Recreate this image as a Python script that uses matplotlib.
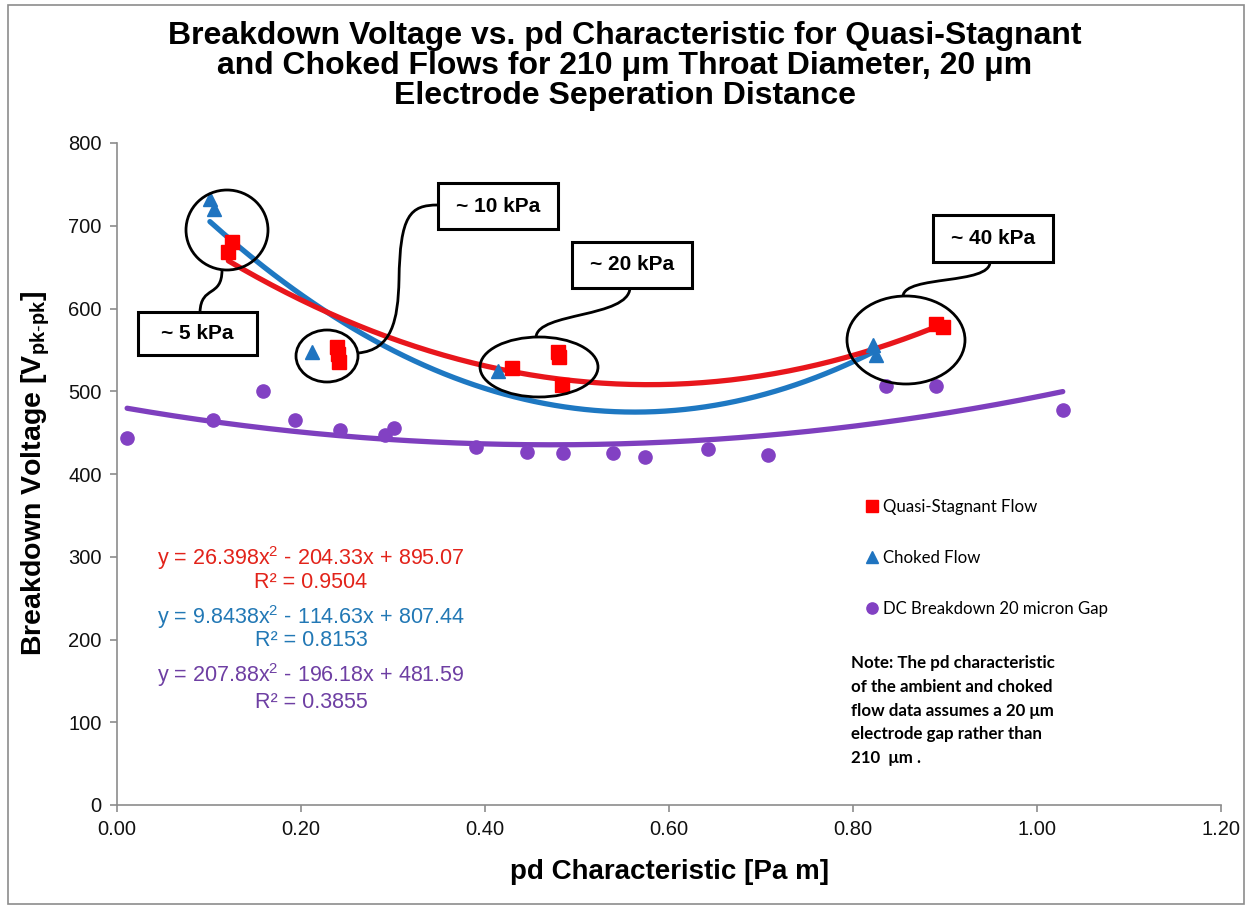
import numpy as np
import matplotlib
matplotlib.use("Agg")
import matplotlib.pyplot as plt
from matplotlib.patches import Ellipse, Rectangle, PathPatch
from matplotlib.path import Path

plt.rcParams['font.family'] = ['Liberation Sans', 'DejaVu Sans']
plt.rcParams['mathtext.fontset'] = 'custom'
plt.rcParams['mathtext.rm'] = 'Liberation Sans'
plt.rcParams['mathtext.bf'] = 'Liberation Sans:bold'
plt.rcParams['mathtext.it'] = 'Liberation Sans:italic'

# ---------------- data ----------------
quasi_x = [0.125, 0.121, 0.239, 0.240, 0.241, 0.429, 0.479, 0.480, 0.484, 0.890, 0.898]
quasi_y = [680, 668, 553, 545, 535, 528, 548, 541, 507, 581, 578]

choked_x = [0.101, 0.105, 0.212, 0.414, 0.822, 0.825]
choked_y = [732, 720, 548, 524, 556, 544]

dc_x = [0.011, 0.104, 0.159, 0.193, 0.242, 0.291, 0.301, 0.390, 0.446, 0.485,
        0.539, 0.574, 0.642, 0.708, 0.836, 0.890, 1.028]
dc_y = [443, 465, 500, 465, 453, 447, 455, 433, 427, 425,
        425, 421, 430, 423, 506, 506, 477]

# trendline coefficients (a, b, c) of a*x^2 + b*x + c in plotted units
quasi_fit = [716.7, -828.5, 747.4]
choked_fit = [1079.7, -1215.1, 816.7]
dc_fit = [207.88, -196.18, 481.59]

eq_labels = ["y = 26.398x$^2$ - 204.33x + 895.07", "R² = 0.9504",
             "y = 9.8438x$^2$ - 114.63x + 807.44", "R² = 0.8153",
             "y = 207.88x$^2$ - 196.18x + 481.59", "R² = 0.3855"]

series_labels = ["Quasi-Stagnant Flow", "Choked Flow", "DC Breakdown 20 micron Gap"]
callouts = ["~ 5 kPa", "~ 10 kPa", "~ 20 kPa", "~ 40 kPa"]

x_ticks = [0.00, 0.20, 0.40, 0.60, 0.80, 1.00, 1.20]
y_ticks = [0, 100, 200, 300, 400, 500, 600, 700, 800]

# ---------------- style ----------------
RED_M = '#FF0000'
RED_L = '#E8161C'
BLUE_M = '#1F74C0'
BLUE_L = '#1E78C2'
PURP_M = '#8241C3'
PURP_L = '#7E3FBE'

W, H = 1250, 909
fig = plt.figure(figsize=(W / 100, H / 100), dpi=100)
ax = fig.add_axes([117 / W, 1 - 805 / H, (1221 - 117) / W, (805 - 143) / H])


def P(x, y):
    return (x / W, 1 - y / H)


def trend(ax, xs, coef, color, z):
    xx = np.linspace(min(xs), max(xs), 200)
    yy = np.polyval(coef, xx)
    ax.plot(xx, yy, color=color, lw=3.8, solid_capstyle='round', zorder=z)


trend(ax, dc_x, dc_fit, PURP_L, 2)
trend(ax, choked_x, choked_fit, BLUE_L, 3)
trend(ax, quasi_x, quasi_fit, RED_L, 4)

h1, = ax.plot(quasi_x, quasi_y, 's', color=RED_M, ms=9.5, mec=RED_M, ls='none', zorder=6,
              label=series_labels[0])
h2, = ax.plot(choked_x, choked_y, '^', color=BLUE_M, ms=9.5, mec=BLUE_M, ls='none', zorder=5,
              label=series_labels[1])
h3, = ax.plot(dc_x, dc_y, 'o', color=PURP_M, ms=9.5, mec=PURP_M, ls='none', zorder=5,
              label=series_labels[2])

ax.set_xlim(0, 1.2)
ax.set_ylim(0, 800)
ax.set_xticks(x_ticks)
ax.set_xticklabels([f"{v:.2f}" for v in x_ticks])
ax.set_yticks(y_ticks)
ax.set_yticklabels([str(v) for v in y_ticks])
for s in ['top', 'right']:
    ax.spines[s].set_visible(False)
for s in ['left', 'bottom']:
    ax.spines[s].set_color('#8C8C8C')
    ax.spines[s].set_linewidth(1.2)
ax.tick_params(axis='both', direction='out', length=5, width=1.2, color='#8C8C8C',
               labelsize=14.5, labelcolor='#111111', pad=6)

ax.set_xlabel("pd Characteristic [Pa m]", fontsize=20, fontweight='bold', labelpad=14)
ax.set_ylabel(r"Breakdown Voltage [V$_{\mathbf{pk}\text{-}\mathbf{pk}}$]", fontsize=20.5,
              fontweight='bold', labelpad=12)

fig.text(0.5, 1 - 66 / H,
         "Breakdown Voltage vs. pd Characteristic for Quasi-Stagnant\n"
         "and Choked Flows for 210 μm Throat Diameter, 20 μm\n"
         "Electrode Seperation Distance",
         ha='center', va='center', fontsize=23, fontweight='bold', linespacing=1.0)

# legend
leg = ax.legend(handles=[h1, h2, h3], loc='upper left', bbox_to_anchor=P(860, 492),
                bbox_transform=fig.transFigure, frameon=False, labelspacing=2.1,
                handlelength=0.6, handletextpad=0.35, borderaxespad=0,
                prop={'family': 'Lato', 'size': 12.1}, markerscale=0.85)

# note
fig.text(*P(851, 655),
         "Note: The pd characteristic\nof the ambient and choked\nflow data assumes a 20 μm\n"
         "electrode gap rather than\n210  μm .",
         ha='left', va='top', fontsize=12.2, fontweight='bold', family='Lato',
         linespacing=1.6)

# trendline equations
eq_colors = ['#E2231A', '#E2231A', '#2278B5', '#2278B5', '#6E3FA3', '#6E3FA3']
eq_y = [558, 583, 617, 641, 675, 703]
for lab, c, yy in zip(eq_labels, eq_colors, eq_y):
    fig.text(*P(311, yy), lab, color=c, ha='center', va='center', fontsize=15.5)

# callout ellipses
ell = [((227, 230), 82, 80), ((327, 356), 62, 52), ((539, 367), 118, 60), ((906, 340), 118, 88)]
for (cx, cy), w, h in ell:
    e = Ellipse(P(cx, cy), w / W, h / H, transform=fig.transFigure, fill=False,
                ec='black', lw=2.0, zorder=7)
    fig.add_artist(e)

# callout boxes
boxes = [(138, 312, 257, 355), (438, 183, 558, 229), (572, 242, 692, 288), (933, 215, 1053, 262)]
for (x0, y0, x1, y1), txt in zip(boxes, callouts):
    r = Rectangle(P(x0, y1), (x1 - x0) / W, (y1 - y0) / H, transform=fig.transFigure,
                  fc='white', ec='black', lw=2.2, zorder=8)
    fig.add_artist(r)
    fig.text(*P((x0 + x1) / 2, (y0 + y1) / 2), txt, ha='center', va='center',
             fontsize=15, fontweight='bold', zorder=9)

# connectors (cubic bezier, pixel coords)
conns = [
    [(222, 270), (222, 298), (201, 285), (200, 312)],
    [(358, 353), (392, 350), (398, 320), (399, 280), (400, 215), (410, 205), (438, 205)],
    [(536, 337), (538, 312), (628, 318), (630, 288)],
    [(903, 296), (905, 275), (990, 285), (990, 262)],
]
for pts in conns:
    verts = [P(x, y) for x, y in pts]
    codes = [Path.MOVETO] + [Path.CURVE4] * (len(verts) - 1)
    pp = PathPatch(Path(verts, codes), fill=False, ec='black', lw=2.0,
                   transform=fig.transFigure, zorder=7)
    fig.add_artist(pp)

# outer chart border
border = Rectangle(P(8, 904), (1244 - 8) / W, (904 - 5) / H, transform=fig.transFigure,
                   fill=False, ec='#8C8C8C', lw=1.2, zorder=0)
fig.add_artist(border)

fig.savefig("out.png", dpi=100)
